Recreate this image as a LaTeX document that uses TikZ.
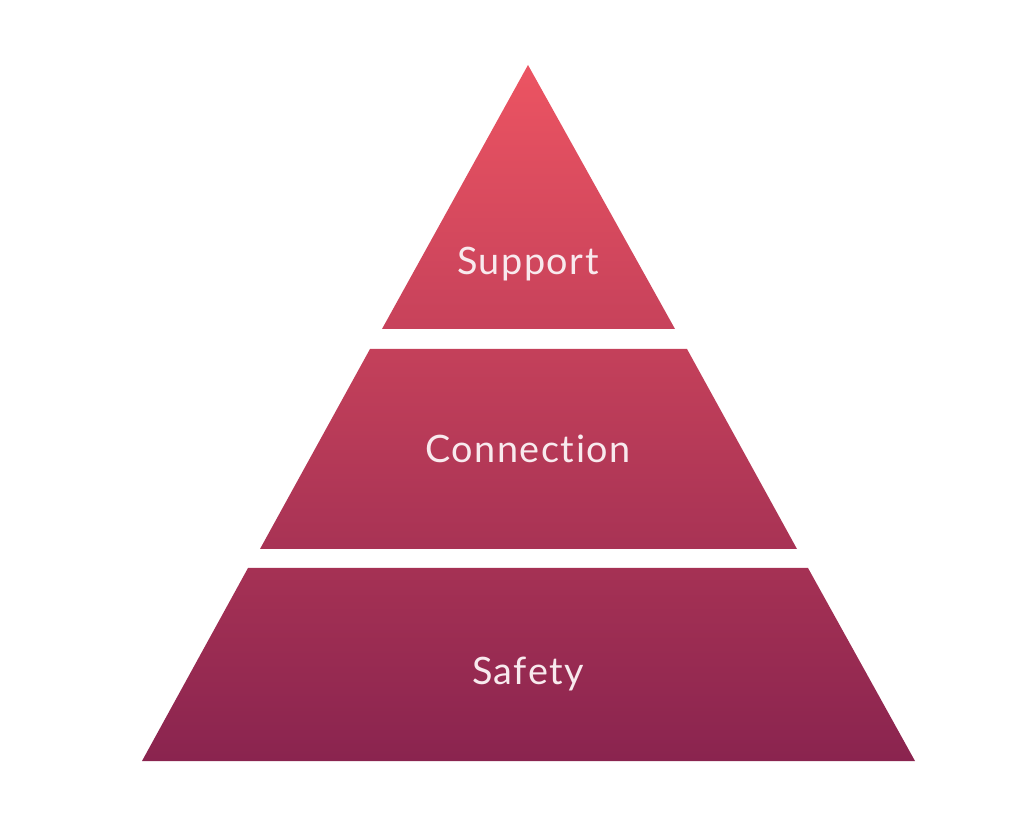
\documentclass[tikz,border=0pt]{standalone}
\usepackage{fontspec}
\setmainfont{Lato}[RawFeature=-liga]
\usetikzlibrary{positioning}

\begin{document}
\begin{tikzpicture}[x=0.02cm,y=-0.02cm]
					\definecolor{pyrtop}{HTML}{EC5462}
					\definecolor{pyrmiddle}{HTML}{C3355A}
					\definecolor{pyrbottom}{HTML}{8A244F}
					\definecolor{pyrtext}{HTML}{F8EAEE}
					\tikzset{tierlabel/.style={text=pyrtext,font=\fontsize{21.5}{25}\selectfont\addfontfeature{LetterSpace=4},anchor=base,inner sep=0pt}}
					\useasboundingbox (0,0) rectangle (1024,813);
					\begin{scope}
						\clip (528,65) -- (675,329) -- (382,329) -- cycle
							(370,349) -- (687,349) -- (797,549) -- (260,549) -- cycle
							(248,568) -- (808,568) -- (915,761) -- (142,761) -- cycle;
						\shade[top color=pyrtop,middle color=pyrmiddle,bottom color=pyrbottom] (130,65) rectangle (930,761);
					\end{scope}
					\node[tierlabel] (support) at (528,275) {Support};
					\node[tierlabel] (connection) at (528,463) {Connection};
					\node[tierlabel] (safety) at (528,684) {Safety};
				\end{tikzpicture}
\end{document}
